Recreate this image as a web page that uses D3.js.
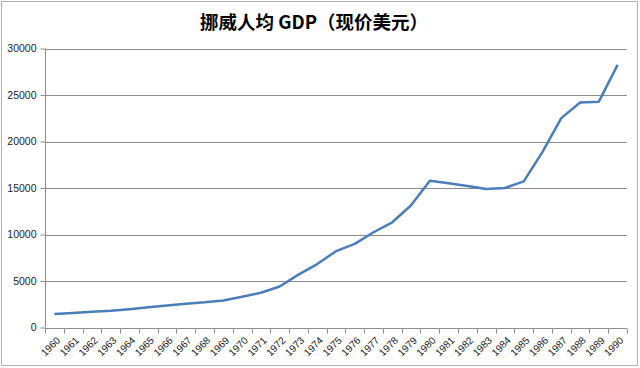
<!DOCTYPE html>
<html><head><meta charset="utf-8">
<script src="https://cdn.jsdelivr.net/npm/d3@7"></script>
<style>body{margin:0;background:#fff}svg{display:block}</style>
</head><body>
<svg id="c" width="640" height="368"></svg>
<script>
const years = ["1960","1961","1962","1963","1964","1965","1966","1967","1968","1969","1970","1971","1972","1973","1974","1975","1976","1977","1978","1979","1980","1981","1982","1983","1984","1985","1986","1987","1988","1989","1990"];
const gdp = [1442,1563,1689,1806,1974,2181,2354,2563,2714,2910,3306,3736,4413,5689,6819,8205,8988,10244,11315,13140,15772,15513,15225,14897,15002,15715,18882,22516,24187,24285,28243];
const yTicks = [0,5000,10000,15000,20000,25000,30000];
const title = "挪威人均 GDP（现价美元）";

const svg = d3.select("#c");
const font = "'Liberation Sans', Arial, sans-serif";
svg.append("rect").attr("x",1.5).attr("y",1.5).attr("width",636).attr("height",364)
  .attr("fill","#fff").attr("stroke","#b0b0b0").attr("stroke-width",1);

const x = d3.scaleBand().domain(years).range([45,627]).padding(0);
const y = d3.scaleLinear().domain([0,30000]).range([327.5,48.5]);

// gridlines
svg.append("g").selectAll("line").data(yTicks.slice(1)).join("line")
  .attr("x1",45).attr("x2",627).attr("y1",d=>Math.round(y(d))+0.5).attr("y2",d=>Math.round(y(d))+0.5)
  .attr("stroke","#8c8c8c").attr("stroke-width",1);

// y axis
const ya = svg.append("g").attr("transform","translate(45.5,0)")
  .call(d3.axisLeft(y).tickValues(yTicks).tickSize(5).tickPadding(4).tickFormat(d3.format("d")));
ya.select(".domain").attr("stroke","#8c8c8c").attr("d","M0,"+y(30000)+"V"+y(0));
ya.selectAll(".tick line").attr("stroke","#8c8c8c");
ya.selectAll(".tick text").attr("font-family",font).attr("font-size",10.5).attr("fill","#222");

// x axis
const xa = svg.append("g").attr("transform","translate(0,"+(Math.round(y(0))+0.5)+")")
  .call(d3.axisBottom(x).tickSize(0).tickFormat(""));
xa.select(".domain").attr("stroke","#8c8c8c").attr("d","M45,0H627");
xa.selectAll(".tick").remove();
const bounds = years.map(d=>x(d)).concat([x(years[years.length-1])+x.bandwidth()]);
xa.append("g").selectAll("line").data(bounds).join("line")
  .attr("x1",d=>Math.round(d)+0.5).attr("x2",d=>Math.round(d)+0.5).attr("y1",0).attr("y2",5)
  .attr("stroke","#8c8c8c");
xa.append("g").selectAll("text").data(years).join("text")
  .attr("transform",d=>"translate("+(x(d)+x.bandwidth()/2+4)+",10) rotate(-45)")
  .attr("text-anchor","end").attr("dy","0.35em")
  .attr("font-family",font).attr("font-size",10).attr("fill","#222").text(d=>d);

// line
const line = d3.line().x((d,i)=>x(years[i])+x.bandwidth()/2).y(d=>y(d));
svg.append("path").datum(gdp).attr("d",line).attr("fill","none")
  .attr("stroke","#4a7ebb").attr("stroke-width",2.5).attr("stroke-linejoin","round");

// title
svg.append("text").attr("x",314).attr("y",29).attr("text-anchor","middle")
  .attr("font-family","'Noto Sans CJK SC', sans-serif").attr("font-weight","bold")
  .attr("font-size",18.5).attr("fill","#000").text(title);
</script>
</body></html>
